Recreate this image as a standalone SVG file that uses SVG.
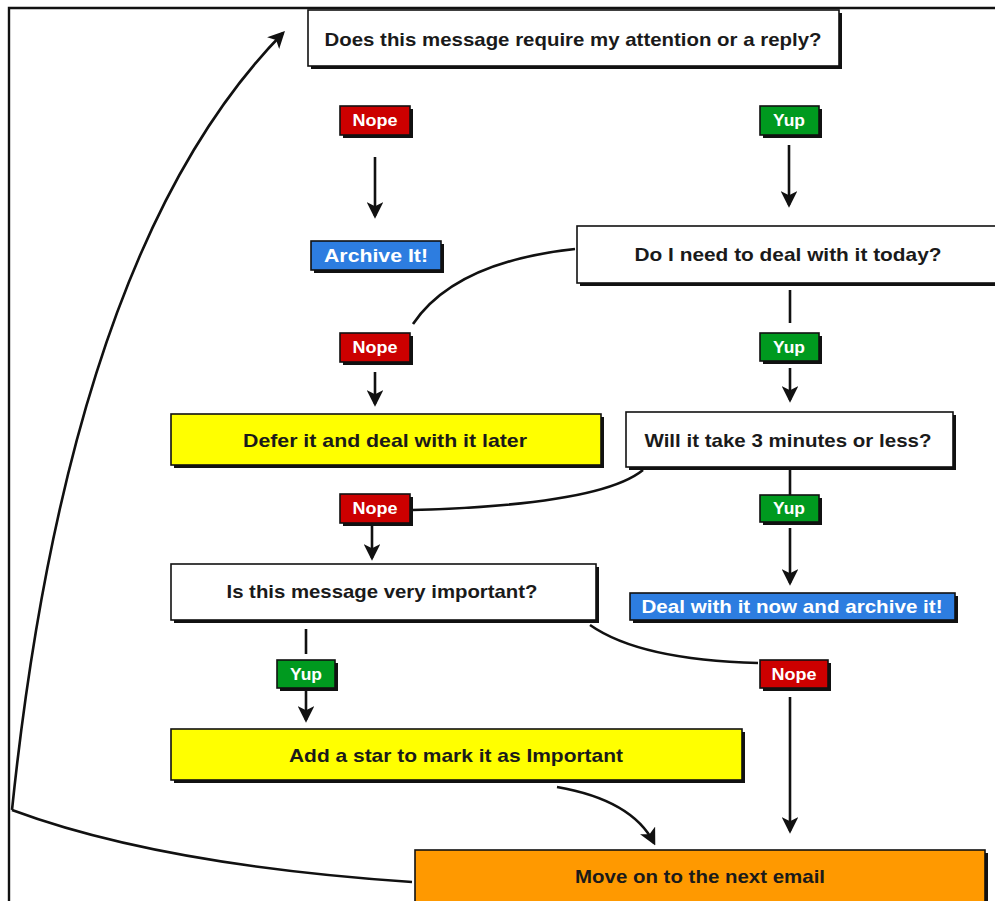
<svg xmlns="http://www.w3.org/2000/svg" width="995" height="901" viewBox="0 0 995 901">
<defs>
<marker id="ah" viewBox="0 0 12 12" refX="10" refY="6" markerWidth="6.5" markerHeight="6.5" orient="auto" markerUnits="strokeWidth">
<path d="M0,0 L12,6 L0,12 L3,6 z" fill="#111"/>
</marker>
<style>
.sh{fill:#111}
.box{stroke:#111;stroke-width:1.6}
.w{fill:#fff}.y{fill:#ffff00}.o{fill:#ff9900}.b{fill:#2d7de0}.r{fill:#cc0000}.g{fill:#009a1f}
.t{font-family:"Liberation Sans",Arial,sans-serif;font-weight:bold;font-size:19px;fill:#1a1a1a;text-anchor:middle;dominant-baseline:central}
.lt{font-family:"Liberation Sans",Arial,sans-serif;font-weight:bold;font-size:17px;fill:#fff;text-anchor:middle;dominant-baseline:central}
.c{fill:none;stroke:#111;stroke-width:2.6}
.ca{fill:none;stroke:#111;stroke-width:2.6;marker-end:url(#ah)}
</style>
</defs>
<rect width="995" height="901" fill="#fff"/>
<path d="M9,901 V8 H995" fill="none" stroke="#111" stroke-width="2.4"/>

<g id="connectors">
<path class="ca" d="M12,810 Q70,250 283,33"/>
<path class="c" d="M412,882 Q160,865 12,810"/>
<path class="ca" d="M375,157 V216"/>
<path class="ca" d="M789,145 V205"/>
<path class="c" d="M575,249 Q455,262 413,324"/>
<path class="ca" d="M375,372 V404"/>
<path class="c" d="M790,290 V323"/>
<path class="ca" d="M790,368 V400"/>
<path class="c" d="M790,467 V495"/>
<path class="ca" d="M790,528 V583"/>
<path class="c" d="M643,470 Q600,505 412,510"/>
<path class="ca" d="M372,525 V558"/>
<path class="c" d="M306,629 V654"/>
<path class="ca" d="M306,688 V720"/>
<path class="c" d="M590,625 Q640,660 758,663"/>
<path class="ca" d="M790,697 V831"/>
<path class="ca" d="M557,787 Q632,800 654,843"/>
</g>

<g id="q1">
<rect class="sh" x="311" y="13" width="531" height="56"/>
<rect class="box w" x="308" y="10" width="531" height="56"/>
<text class="t" x="573" y="39" textLength="497" lengthAdjust="spacingAndGlyphs">Does this message require my attention or a reply?</text>
</g>
<g id="nope1">
<rect class="sh" x="343" y="109" width="70" height="29"/>
<rect class="box r" x="340" y="106" width="70" height="29"/>
<text class="lt" x="375" y="120" textLength="45" lengthAdjust="spacingAndGlyphs">Nope</text>
</g>
<g id="archive">
<rect class="sh" x="314" y="244" width="130" height="29"/>
<rect class="box b" x="311" y="241" width="130" height="29"/>
<text class="lt" x="376" y="255" textLength="104" lengthAdjust="spacingAndGlyphs" style="font-size:19px">Archive It!</text>
</g>
<g id="yup1">
<rect class="sh" x="763" y="109" width="59" height="29"/>
<rect class="box g" x="760" y="106" width="59" height="29"/>
<text class="lt" x="789" y="120" textLength="32" lengthAdjust="spacingAndGlyphs">Yup</text>
</g>
<g id="q2">
<rect class="sh" x="580" y="229" width="425" height="57"/>
<rect class="box w" x="577" y="226" width="425" height="57"/>
<text class="t" x="788" y="254" textLength="307" lengthAdjust="spacingAndGlyphs">Do I need to deal with it today?</text>
</g>
<g id="nope2">
<rect class="sh" x="343" y="336" width="70" height="29"/>
<rect class="box r" x="340" y="333" width="70" height="29"/>
<text class="lt" x="375" y="347" textLength="45" lengthAdjust="spacingAndGlyphs">Nope</text>
</g>
<g id="defer">
<rect class="sh" x="174" y="417" width="430" height="51"/>
<rect class="box y" x="171" y="414" width="430" height="51"/>
<text class="t" x="385" y="440" textLength="284" lengthAdjust="spacingAndGlyphs">Defer it and deal with it later</text>
</g>
<g id="yup2">
<rect class="sh" x="763" y="336" width="59" height="28"/>
<rect class="box g" x="760" y="333" width="59" height="28"/>
<text class="lt" x="789" y="347" textLength="32" lengthAdjust="spacingAndGlyphs">Yup</text>
</g>
<g id="q3">
<rect class="sh" x="629" y="415" width="327" height="55"/>
<rect class="box w" x="626" y="412" width="327" height="55"/>
<text class="t" x="788" y="440" textLength="287" lengthAdjust="spacingAndGlyphs">Will it take 3 minutes or less?</text>
</g>
<g id="yup3">
<rect class="sh" x="763" y="498" width="59" height="27"/>
<rect class="box g" x="760" y="495" width="59" height="27"/>
<text class="lt" x="789" y="508" textLength="32" lengthAdjust="spacingAndGlyphs">Yup</text>
</g>
<g id="deal">
<rect class="sh" x="633" y="596" width="325" height="27"/>
<rect class="box b" x="630" y="593" width="325" height="27"/>
<text class="lt" x="792" y="606" textLength="301" lengthAdjust="spacingAndGlyphs" style="font-size:19px">Deal with it now and archive it!</text>
</g>
<g id="nope3">
<rect class="sh" x="343" y="497" width="70" height="29"/>
<rect class="box r" x="340" y="494" width="70" height="29"/>
<text class="lt" x="375" y="508" textLength="45" lengthAdjust="spacingAndGlyphs">Nope</text>
</g>
<g id="q4">
<rect class="sh" x="174" y="567" width="425" height="56"/>
<rect class="box w" x="171" y="564" width="425" height="56"/>
<text class="t" x="382" y="591" textLength="311" lengthAdjust="spacingAndGlyphs">Is this message very important?</text>
</g>
<g id="yup4">
<rect class="sh" x="280" y="663" width="58" height="28"/>
<rect class="box g" x="277" y="660" width="58" height="28"/>
<text class="lt" x="306" y="674" textLength="32" lengthAdjust="spacingAndGlyphs">Yup</text>
</g>
<g id="star">
<rect class="sh" x="174" y="732" width="571" height="51"/>
<rect class="box y" x="171" y="729" width="571" height="51"/>
<text class="t" x="456" y="755" textLength="334" lengthAdjust="spacingAndGlyphs">Add a star to mark it as Important</text>
</g>
<g id="nope4">
<rect class="sh" x="763" y="663" width="68" height="28"/>
<rect class="box r" x="760" y="660" width="68" height="28"/>
<text class="lt" x="794" y="674" textLength="45" lengthAdjust="spacingAndGlyphs">Nope</text>
</g>
<g id="move">
<rect class="sh" x="418" y="853" width="570" height="55"/>
<rect class="box o" x="415" y="850" width="570" height="55"/>
<text class="t" x="700" y="876" textLength="250" lengthAdjust="spacingAndGlyphs">Move on to the next email</text>
</g>
</svg>
